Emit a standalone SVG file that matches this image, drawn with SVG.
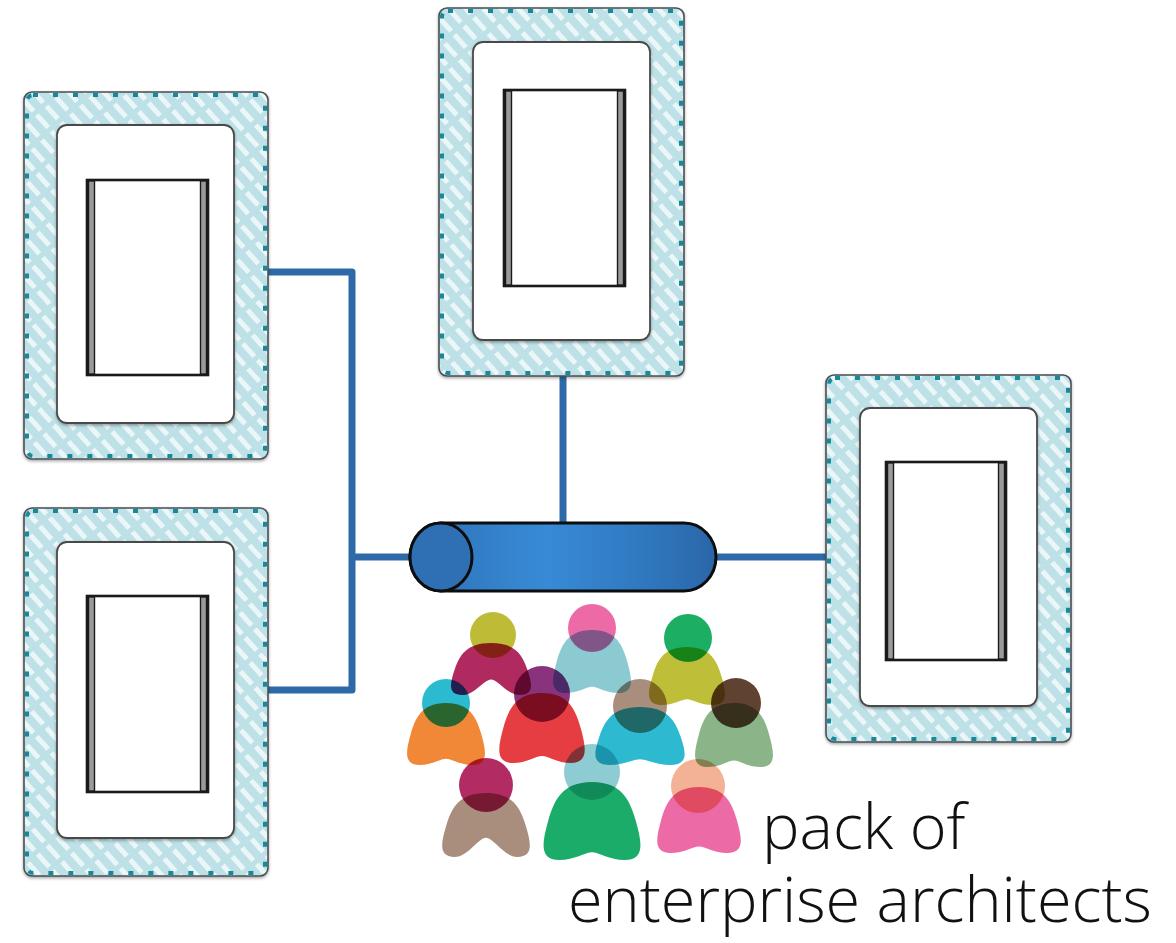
<svg xmlns="http://www.w3.org/2000/svg" xmlns:xlink="http://www.w3.org/1999/xlink" width="1176" height="943" viewBox="0 0 1176 943">
  <defs>
    <!-- diagonal hatch used for the outer frame of every server -->
    <pattern id="hatch" patternUnits="userSpaceOnUse" width="13" height="22" patternTransform="rotate(-42)">
      <rect x="0" y="0" width="13" height="22" fill="#bde1e7"/>
      <rect x="0" y="0" width="5" height="17" fill="#ffffff" opacity="0.7"/>
    </pattern>
    <linearGradient id="pipeFill" x1="0" y1="0" x2="1" y2="0">
      <stop offset="0" stop-color="#2c6cb2"/>
      <stop offset="0.25" stop-color="#3380c8"/>
      <stop offset="0.45" stop-color="#388ad6"/>
      <stop offset="0.75" stop-color="#3079c0"/>
      <stop offset="1" stop-color="#2a66a8"/>
    </linearGradient>
    <filter id="soft" x="-5%" y="-5%" width="110%" height="110%">
      <feDropShadow dx="0" dy="1.5" stdDeviation="1.5" flood-color="#000" flood-opacity="0.35"/>
    </filter>
    <!-- person body silhouettes, unit size: x -1..1, y 0..1 -->
    <path id="bodyShallow" d="M0,0 C0.6,0 0.75,0.25 0.86,0.5 C0.98,0.78 1.04,1 0.64,1 C0.34,1 0.14,0.9 0,0.9 C-0.14,0.9 -0.34,1 -0.64,1 C-1.04,1 -0.98,0.78 -0.86,0.5 C-0.75,0.25 -0.6,0 0,0 Z"/>
    <path id="bodyDeep" d="M0,0 C0.6,0 0.75,0.25 0.86,0.5 C0.98,0.78 1.04,1 0.68,1 C0.4,1 0.16,0.7 0,0.7 C-0.16,0.7 -0.4,1 -0.68,1 C-1.04,1 -0.98,0.78 -0.86,0.5 C-0.75,0.25 -0.6,0 0,0 Z"/>
  </defs>
  <style>
    .frame { fill: url(#hatch); stroke: #4a4f52; stroke-width: 1.6; filter: url(#soft); }
    .teeth { fill: none; stroke: #17899a; stroke-width: 4; stroke-dasharray: 5 15; }
    .panel { fill: #ffffff; stroke: #4a4a4a; stroke-width: 1.8; filter: url(#soft); }
    .unit { fill: #ffffff; stroke: #1a1a1a; stroke-width: 2.6; }
    .rail { fill: #9a9a9a; stroke: #1a1a1a; stroke-width: 1.4; }
    .wire { fill: none; stroke: #2e6aa8; stroke-width: 7; stroke-linejoin: round; }
    .pipe { fill: url(#pipeFill); stroke: #0d0d0d; stroke-width: 3; }
    .cap { fill: #2f70b5; stroke: #0d0d0d; stroke-width: 3; }
    .crowd > * { mix-blend-mode: multiply; opacity: 0.9; }
    .label { font-family: "Open Sans", "Liberation Sans", sans-serif; font-weight: 300; font-size: 63px; fill: #111111; }
  </style>

  <!-- network wiring -->
  <g id="connectors">
    <polyline class="wire" points="268,272 352,272 352,690 268,690"/>
    <line class="wire" x1="352" y1="557" x2="412" y2="557"/>
    <line class="wire" x1="563" y1="376" x2="563" y2="526"/>
    <line class="wire" x1="716" y1="557" x2="827" y2="557"/>
  </g>

  <!-- server top-left -->
  <g id="server-top-left">
    <rect class="frame" x="24" y="92" width="244" height="367" rx="8"/>
    <rect class="teeth" x="27" y="95" width="238" height="361" rx="6"/>
    <rect class="panel" x="57" y="125" width="177" height="298" rx="10"/>
    <rect class="unit" x="87" y="180" width="121" height="195"/>
    <rect class="rail" x="88.5" y="181" width="6" height="193"/>
    <rect class="rail" x="200.5" y="181" width="6" height="193"/>
  </g>

  <!-- server bottom-left -->
  <g id="server-bottom-left">
    <rect class="frame" x="24" y="508" width="244" height="368" rx="8"/>
    <rect class="teeth" x="27" y="511" width="238" height="362" rx="6"/>
    <rect class="panel" x="57" y="542" width="177" height="296" rx="10"/>
    <rect class="unit" x="87" y="596" width="121" height="196"/>
    <rect class="rail" x="88.5" y="597" width="6" height="194"/>
    <rect class="rail" x="200.5" y="597" width="6" height="194"/>
  </g>

  <!-- server top-centre -->
  <g id="server-top">
    <rect class="frame" x="439" y="8" width="245" height="368" rx="8"/>
    <rect class="teeth" x="442" y="11" width="239" height="362" rx="6"/>
    <rect class="panel" x="473" y="42" width="177" height="298" rx="10"/>
    <rect class="unit" x="504" y="90" width="121" height="196"/>
    <rect class="rail" x="505.5" y="91" width="6" height="194"/>
    <rect class="rail" x="617.5" y="91" width="6" height="194"/>
  </g>

  <!-- server right -->
  <g id="server-right">
    <rect class="frame" x="826" y="375" width="245" height="367" rx="8"/>
    <rect class="teeth" x="829" y="378" width="239" height="361" rx="6"/>
    <rect class="panel" x="860" y="408" width="177" height="298" rx="10"/>
    <rect class="unit" x="886" y="462" width="120" height="198"/>
    <rect class="rail" x="887.5" y="463" width="6" height="196"/>
    <rect class="rail" x="998.5" y="463" width="6" height="196"/>
  </g>

  <!-- message bus -->
  <g id="bus">
    <path class="pipe" d="M441,523 L684,523 A32,34 0 0 1 684,591 L441,591 A31,34 0 0 1 441,523 Z"/>
    <ellipse class="cap" cx="441" cy="557" rx="31" ry="34"/>
  </g>

  <!-- crowd of people -->
  <g id="architects" class="crowd" style="isolation:isolate">
    <use href="#bodyDeep" fill="#a8124f" transform="translate(491,643) scale(42,52)"/>
    <circle cx="493" cy="635" r="23" fill="#b7b520"/>
    <use href="#bodyShallow" fill="#7fc5cd" transform="translate(592,630) scale(41,63)"/>
    <circle cx="592" cy="628" r="24" fill="#ea5a9c"/>
    <use href="#bodyShallow" fill="#b8b722" transform="translate(687,647) scale(40,58)"/>
    <circle cx="688" cy="638" r="24" fill="#03a552"/>
    <use href="#bodyShallow" fill="#f07b22" transform="translate(446,703) scale(41,62)"/>
    <circle cx="446" cy="703" r="24" fill="#14b4cc"/>
    <use href="#bodyShallow" fill="#e3282c" transform="translate(542,693) scale(45,70)"/>
    <circle cx="542" cy="694" r="28" fill="#7b1c6c"/>
    <use href="#bodyShallow" fill="#16b2ca" transform="translate(640,707) scale(47,58)"/>
    <circle cx="640" cy="706" r="27" fill="#a08270"/>
    <use href="#bodyShallow" fill="#7eac7b" transform="translate(734,703) scale(41,64)"/>
    <circle cx="736" cy="703" r="25" fill="#4e2d1a"/>
    <use href="#bodyDeep" fill="#a08270" transform="translate(486,793) scale(46,64)"/>
    <circle cx="486" cy="785" r="27" fill="#aa1452"/>
    <use href="#bodyShallow" fill="#02a35a" transform="translate(592,782) scale(51,78)"/>
    <circle cx="592" cy="772" r="28" fill="#82c7cf"/>
    <use href="#bodyShallow" fill="#ea5a9c" transform="translate(699,787) scale(44,66)"/>
    <circle cx="698" cy="786" r="27" fill="#f2aa8a"/>
  </g>

  <!-- two-line caption -->
  <g id="caption">
    <text class="label"><tspan x="762" y="849">pack of</tspan><tspan x="568" y="922">enterprise architects</tspan></text>
  </g>
</svg>
